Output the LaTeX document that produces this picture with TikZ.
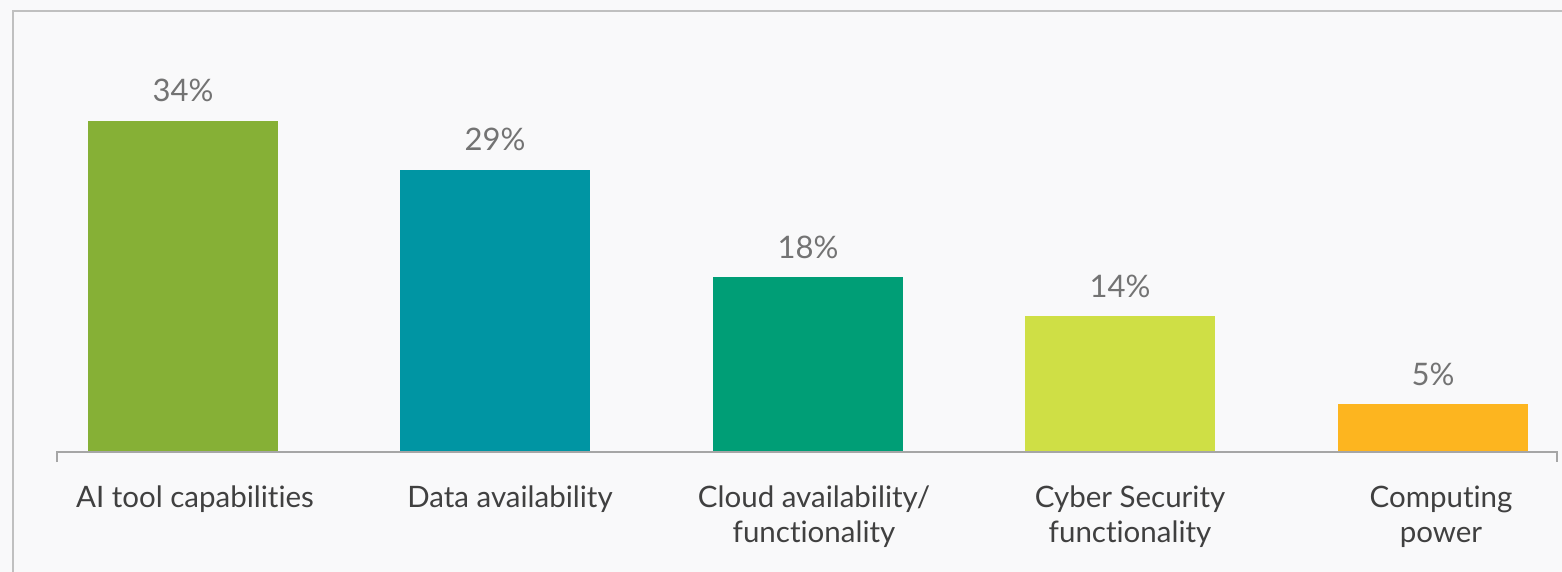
\documentclass[tikz,border=0pt]{standalone}
\usepackage{fontspec}
\setmainfont{Lato}[Ligatures={NoCommon,NoContextual}]
\definecolor{bgc}{HTML}{F9F9FA}
\definecolor{framec}{HTML}{C0C0C0}
\definecolor{axisc}{HTML}{A6A6A6}
\definecolor{valc}{HTML}{737373}
\definecolor{catc}{HTML}{404040}
\definecolor{cA}{HTML}{86B036}
\definecolor{cB}{HTML}{0095A3}
\definecolor{cC}{HTML}{009E76}
\definecolor{cD}{HTML}{CFDF45}
\definecolor{cE}{HTML}{FDB51F}
\tikzset{
  val/.style={anchor=base, text=valc, font=\fontsize{31}{36}\selectfont, inner sep=0pt},
  cat/.style={anchor=base, text=catc, font=\fontsize{29.5}{35}\selectfont, inner sep=0pt, align=center},
}
\begin{document}
\begin{tikzpicture}[x=1pt,y=-1pt]
\useasboundingbox (0,0) rectangle (1562,572);
\fill[bgc] (0,0) rectangle (1562,572);
\draw[framec, line width=2pt] (13,572) -- (13,11) -- (1562,11);
% bars
\fill[cA] (88,121) rectangle (278,452);
\fill[cB] (400,170) rectangle (590,452);
\fill[cC] (713,277) rectangle (903,452);
\fill[cD] (1025,316) rectangle (1215,452);
\fill[cE] (1338,404) rectangle (1528,452);
% axis
\coordinate (axL) at (57,462);
\coordinate (axR) at (1557,462);
\draw[axisc, line width=2pt] (axL) -- (57,452) -- (1557,452) -- (axR);
% values
\node[val] (v1) at (183,102) {34\%};
\node[val] (v2) at (495,151) {29\%};
\node[val] (v3) at (808,258) {18\%};
\node[val] (v4) at (1120,297) {14\%};
\node[val] (v5) at (1433,385) {5\%};
% categories
\node[cat] (c1) at (195,507) {AI tool capabilities};
\node[cat] (c2) at (510,507) {Data availability};
\node[cat] (c3) at (814,542) {Cloud availability/\\functionality};
\node[cat] (c4) at (1130,542) {Cyber Security\\functionality};
\node[cat] (c5) at (1441,542) {Computing\\power};
\end{tikzpicture}
\end{document}
